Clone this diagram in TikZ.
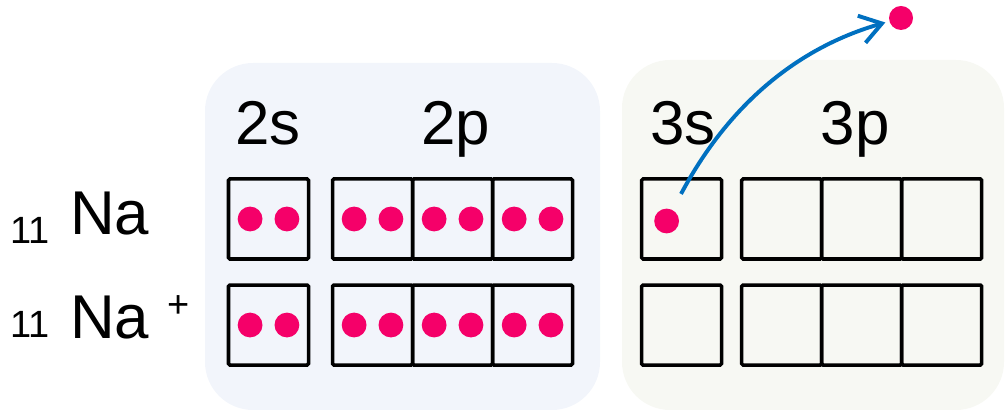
\documentclass[tikz,border=0pt]{standalone}
\usepackage{fontspec}
\setmainfont{Liberation Sans}
\usetikzlibrary{positioning,arrows.meta}
\definecolor{panelblue}{RGB}{242,245,251}
\definecolor{panelgray}{RGB}{247,248,243}
\definecolor{elecpink}{RGB}{245,0,105}
\definecolor{arrowblue}{RGB}{0,112,192}
\newcommand{\numsize}{\fontsize{27}{27}\selectfont}

\begin{document}
\begin{tikzpicture}[x=0.025cm,y=0.025cm,node distance=0.65cm and 0.6cm]
  \tikzstyle{orb}=[rectangle,draw=black,line width=2.5pt,minimum width=2cm,minimum height=2cm,inner sep=0pt,outer sep=0pt,rounded corners=1pt]
  \tikzstyle{elec}=[circle,fill=elecpink,minimum size=0.62cm,inner sep=0pt]
  \tikzstyle{shell}=[font=\fontsize{44}{44}\selectfont,anchor=base,inner sep=0pt]
  \tikzstyle{atom}=[font=\fontsize{44}{44}\selectfont,anchor=base west,inner sep=0pt]

  \useasboundingbox (0,0) rectangle (1006,412);
  \fill[panelblue,rounded corners=1.2cm] (205,2) rectangle (600,349);
  \fill[panelgray,rounded corners=1.2cm] (622,2) rectangle (1004,352);

  \node[shell] (l2s) at (268,267) {2s};
  \node[shell] (l2p) at (456,267) {2p};
  \node[shell] (l3s) at (683,267) {3s};
  \node[shell] (l3p) at (855,267) {3p};

  \node[atom] (na) at (10,177) {\raisebox{-5.7pt}{\numsize 11}\hspace{14.5pt}Na};
  \node[atom] (naion) at (10,73) {\raisebox{1.4pt}{\numsize 11}\hspace{14.5pt}Na\hspace{13pt}\raisebox{15pt}{\numsize +}};

  \node[orb] (s2a) at (268.5,193) {};
  \node[orb,right=of s2a] (p2a1) {};
  \node[orb,right=0pt of p2a1] (p2a2) {};
  \node[orb,right=0pt of p2a2] (p2a3) {};
  \node[orb,right=1.725cm of p2a3] (s3a) {};
  \node[orb,right=0.5cm of s3a] (p3a1) {};
  \node[orb,right=0pt of p3a1] (p3a2) {};
  \node[orb,right=0pt of p3a2] (p3a3) {};

  \node[orb,below=of s2a] (s2b) {};
  \node[orb,below=of p2a1] (p2b1) {};
  \node[orb,below=of p2a2] (p2b2) {};
  \node[orb,below=of p2a3] (p2b3) {};
  \node[orb,below=of s3a] (s3b) {};
  \node[orb,below=of p3a1] (p3b1) {};
  \node[orb,below=of p3a2] (p3b2) {};
  \node[orb,below=of p3a3] (p3b3) {};

  \foreach \b in {s2a,p2a1,p2a2,p2a3,s2b,p2b1,p2b2,p2b3}{
    \node[elec] (\b-l) at ([xshift=-0.46cm]\b.center) {};
    \node[elec] (\b-r) at ([xshift=0.46cm]\b.center) {};
  }
  \node[elec] (e3s) at ([xshift=-0.375cm,yshift=-0.05cm]s3a.center) {};
  \node[elec,minimum size=0.6cm] (efree) at (901,394) {};

  \draw[arrowblue,line width=2.8pt,-{Straight Barb[length=15pt,width=20pt]},shorten <=0.45cm,shorten >=0.1cm] (e3s) .. controls (730,310) and (800,365) .. (efree);
\end{tikzpicture}
\end{document}
